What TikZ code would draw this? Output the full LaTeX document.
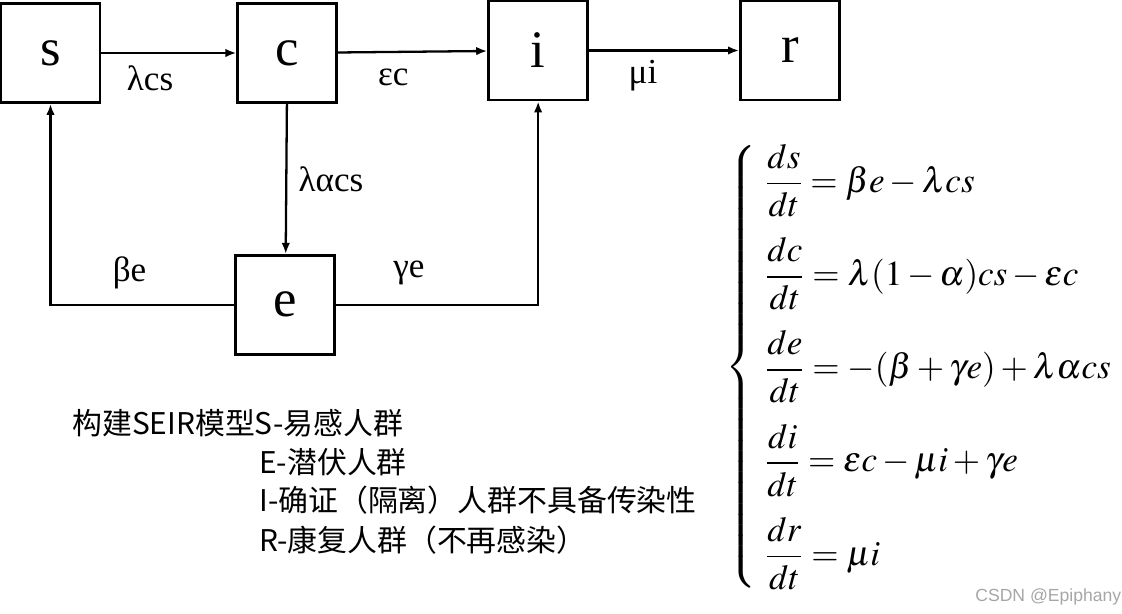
\documentclass[tikz,border=0pt]{standalone}
\usepackage{mathptmx}
\usepackage{fontspec}
\setmainfont{Liberation Serif}
\newfontfamily\cjk{Noto Sans CJK SC}
\newfontfamily\markfont{Liberation Sans}
\usetikzlibrary{positioning,arrows.meta}
\tikzset{
  flowarr/.style={-{Latex[length=2.2mm,width=1.7mm]},line width=1.3pt},
  box/.style={draw=black,line width=1.6pt,minimum width=1.98cm,minimum height=1.98cm,
              inner sep=0pt,font=\fontsize{30}{30}\selectfont},
  rate/.style={font=\fontsize{20}{20}\selectfont},
  note/.style={font=\cjk\fontsize{17}{17}\selectfont,anchor=west,inner sep=0pt}
}

\begin{document}
\begin{tikzpicture}
\useasboundingbox (0,0) rectangle (22.44,-12.28);
\node[box] (s) at (1.01,-1.06) {s};
\node[box, right=2.70cm of s] (c) {c};
\node[box, right=2.98cm of c, yshift=0.05cm] (i) {i};
\node[box, right=3.0cm of i] (r) {r};
\node[box, below=3.0cm of c, xshift=-0.04cm] (e) {e};

\draw[flowarr] (s) -- node[rate, pos=0.36, yshift=-0.5cm]{λcs} (c);
\draw[flowarr] (c) -- node[rate, pos=0.37, yshift=-0.5cm]{εc} (i);
\draw[flowarr] (i) -- node[rate, pos=0.36, yshift=-0.5cm]{μi} (r);
\draw[flowarr] (c) -- node[rate, right=3pt]{λαcs} (e);
\draw[flowarr] (e.west) -| node[rate, pos=0.285, yshift=0.64cm]{βe} (s.south);
\draw[flowarr] (e.east) -| node[rate, pos=0.18, yshift=0.64cm]{γe} (i.south);

% legend
\node[note] (n1) at (1.44,-8.46) {构建SEIR模型S-易感人群};
\node[note] (n2) at (5.18,-9.24) {E-潜伏人群};
\node[note] (n3) at (5.18,-10.0) {I-确证（隔离）人群不具备传染性};
\node[note] (n4) at (5.18,-10.8) {R-康复人群（不再感染）};

% equations
\node[anchor=west, inner sep=0pt, font=\fontsize{20}{24}\selectfont] (eqs) at (14.5,-7.34)
{$\left\{\begin{array}{l}
\displaystyle\frac{ds}{dt}=\beta e-\lambda cs\\[18.5pt]
\displaystyle\frac{dc}{dt}=\lambda(1-\alpha)cs-\varepsilon c\\[18.5pt]
\displaystyle\frac{de}{dt}=-(\beta+\gamma e)+\lambda\alpha cs\\[18.5pt]
\displaystyle\frac{di}{dt}=\varepsilon c-\mu i+\gamma e\\[18.5pt]
\displaystyle\frac{dr}{dt}=\mu i
\end{array}\right.$};

\node[anchor=west, inner sep=0pt, text=gray!70, font=\markfont\fontsize{10}{10}\selectfont] (mark) at (19.5,-11.94) {CSDN @Epiphany};
\end{tikzpicture}
\end{document}
